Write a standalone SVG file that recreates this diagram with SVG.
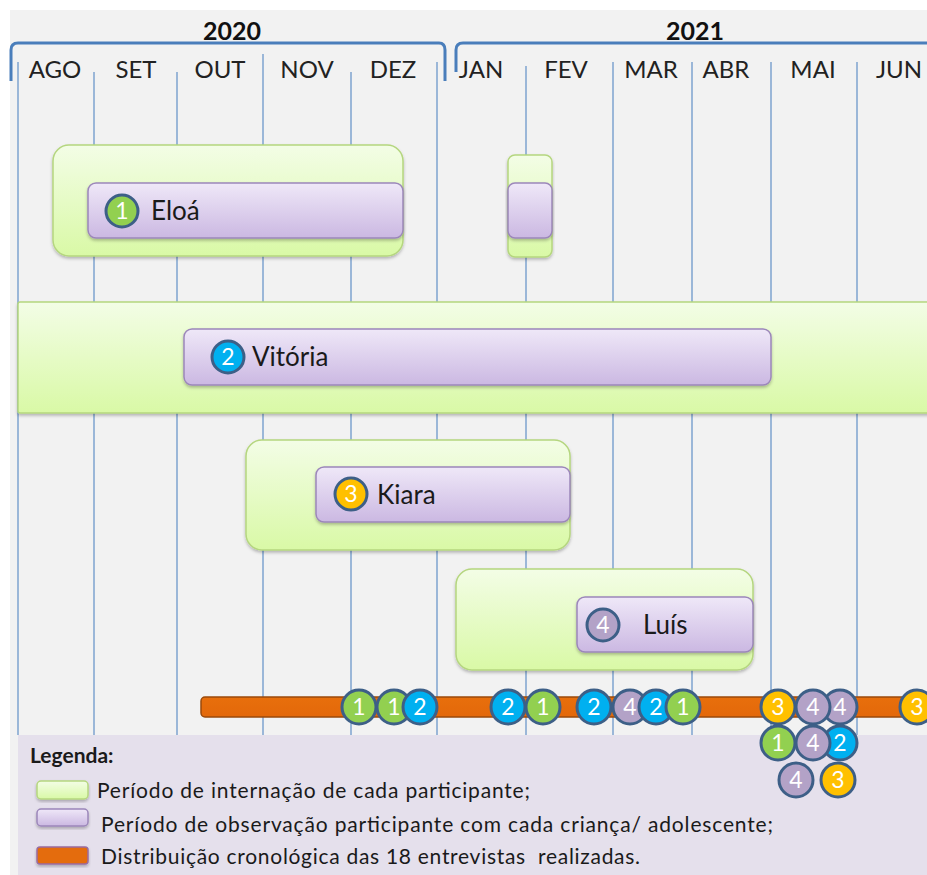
<svg xmlns="http://www.w3.org/2000/svg" width="927" height="875" viewBox="0 0 927 875">
<defs>
<linearGradient id="gG" x1="0" y1="0" x2="0" y2="1"><stop offset="0" stop-color="#f3fde6"/><stop offset="1" stop-color="#d9f9a6"/></linearGradient>
<linearGradient id="gP" x1="0" y1="0" x2="0" y2="1"><stop offset="0" stop-color="#efe8f8"/><stop offset="1" stop-color="#cbb8e2"/></linearGradient>
<linearGradient id="gO" x1="0" y1="0" x2="0" y2="1"><stop offset="0" stop-color="#e86f0c"/><stop offset="1" stop-color="#e3680a"/></linearGradient>
<filter id="sh" x="-5%" y="-10%" width="110%" height="130%"><feDropShadow dx="0" dy="2" stdDeviation="1.5" flood-color="#000" flood-opacity="0.25"/></filter>
</defs>
<style>
.grid{stroke:#7ea3cf;stroke-width:1.5}
.br{fill:none;stroke:#4a7ebb;stroke-width:3}
.yr{font-family:Lato,"Liberation Sans",sans-serif;font-weight:bold;font-size:25px;fill:#111;text-anchor:middle}
.mo{font-family:Lato,"Liberation Sans",sans-serif;font-size:24px;fill:#222;text-anchor:middle}
.gb{fill:url(#gG);stroke:#b5d67f;stroke-width:1.5;filter:url(#sh)}
.pb{fill:url(#gP);stroke:#9c87ba;stroke-width:1.5;filter:url(#sh)}
.nm{font-family:Lato,"Liberation Sans",sans-serif;font-size:26px;fill:#1a1a1a}
.c{stroke:#3d5f87;stroke-width:3}
.n{font-family:Lato,"Liberation Sans",sans-serif;font-size:23px;fill:#fff;text-anchor:middle}
.g{fill:#92d050}.b{fill:#00b0f0}.p{fill:#b3a2c7}.y{fill:#ffc000}
.lg{font-family:Lato,"Liberation Sans",sans-serif;font-size:21px;fill:#1a1a1a}
</style>
<rect x="0" y="0" width="927" height="875" fill="#ffffff"/>
<rect x="10" y="10" width="917" height="865" fill="#f2f2f2"/>
<rect x="18" y="735" width="909" height="140" fill="#e5e0ec"/>

<g id="grid">
<line class="grid" x1="18" y1="62" x2="18" y2="735"/>
<line class="grid" x1="94" y1="72" x2="94" y2="735"/>
<line class="grid" x1="177" y1="72" x2="177" y2="735"/>
<line class="grid" x1="263" y1="54" x2="263" y2="735"/>
<line class="grid" x1="351" y1="72" x2="351" y2="735"/>
<line class="grid" x1="437" y1="62" x2="437" y2="735"/>
<line class="grid" x1="526" y1="66" x2="526" y2="735"/>
<line class="grid" x1="613" y1="62" x2="613" y2="735"/>
<line class="grid" x1="692" y1="62" x2="692" y2="735"/>
<line class="grid" x1="771" y1="62" x2="771" y2="735"/>
<line class="grid" x1="857" y1="62" x2="857" y2="735"/>
</g>

<g id="header">
<path class="br" d="M11,81 L11,50 Q11,43 18,43 L439,43 Q445,43 445,50 L445,81"/>
<path class="br" d="M456,72 L456,50 Q456,43 463,43 L927,43"/>
<text class="yr" x="232" y="40">2020</text>
<text class="yr" x="695" y="40">2021</text>
<text class="mo" x="55" y="78">AGO</text>
<text class="mo" x="136" y="78">SET</text>
<text class="mo" x="220" y="78">OUT</text>
<text class="mo" x="307" y="78">NOV</text>
<text class="mo" x="393" y="78">DEZ</text>
<text class="mo" x="481" y="78">JAN</text>
<text class="mo" x="566" y="78">FEV</text>
<text class="mo" x="651" y="78">MAR</text>
<text class="mo" x="726" y="78">ABR</text>
<text class="mo" x="813" y="78">MAI</text>
<text class="mo" x="899" y="78">JUN</text>
</g>

<g id="eloa">
<rect class="gb" x="53" y="145" width="350" height="111" rx="16"/>
<rect class="pb" x="88" y="183" width="315" height="55" rx="8"/>
<circle class="c g" cx="122" cy="211" r="16"/>
<text class="n" x="122" y="219">1</text>
<text class="nm" x="151" y="220">Eloá</text>
</g>
<g id="eloa2">
<rect class="gb" x="508" y="155" width="44" height="102" rx="7"/>
<rect class="pb" x="508" y="183" width="44" height="55" rx="7"/>
</g>

<g id="vitoria">
<rect class="gb" x="18" y="302" width="930" height="111" rx="2"/>
<rect class="pb" x="184" y="329" width="587" height="56" rx="8"/>
<circle class="c b" cx="228" cy="357" r="16"/>
<text class="n" x="228" y="365">2</text>
<text class="nm" x="252" y="366">Vitória</text>
</g>

<g id="kiara">
<rect class="gb" x="246" y="440" width="324" height="110" rx="16"/>
<rect class="pb" x="316" y="467" width="254" height="55" rx="8"/>
<circle class="c y" cx="351" cy="494" r="16"/>
<text class="n" x="351" y="502">3</text>
<text class="nm" x="377" y="504">Kiara</text>
</g>

<g id="luis">
<rect class="gb" x="456" y="569" width="297" height="101" rx="16"/>
<rect class="pb" x="577" y="597" width="176" height="55" rx="8"/>
<circle class="c p" cx="603" cy="625" r="16"/>
<text class="n" x="603" y="633">4</text>
<text class="nm" x="643" y="634">Luís</text>
</g>

<g id="connectors">
<rect x="201" y="697" width="740" height="20" rx="4" fill="url(#gO)" stroke="#9a4a0b" stroke-width="1.5"/>
</g>

<g id="interviews">
<circle class="c g" cx="359" cy="707" r="17"/><text class="n" x="359" y="715">1</text>
<circle class="c g" cx="394" cy="707" r="17"/><text class="n" x="394" y="715">1</text>
<circle class="c b" cx="420" cy="707" r="17"/><text class="n" x="420" y="715">2</text>
<circle class="c b" cx="508" cy="707" r="17"/><text class="n" x="508" y="715">2</text>
<circle class="c g" cx="543" cy="707" r="17"/><text class="n" x="543" y="715">1</text>
<circle class="c b" cx="594" cy="707" r="17"/><text class="n" x="594" y="715">2</text>
<circle class="c p" cx="630" cy="707" r="17"/><text class="n" x="630" y="715">4</text>
<circle class="c b" cx="656" cy="707" r="17"/><text class="n" x="656" y="715">2</text>
<circle class="c g" cx="683" cy="707" r="17"/><text class="n" x="683" y="715">1</text>
<circle class="c p" cx="840" cy="707" r="17"/><text class="n" x="840" y="715">4</text>
<circle class="c y" cx="778" cy="707" r="17"/><text class="n" x="778" y="715">3</text>
<circle class="c p" cx="813" cy="707" r="17"/><text class="n" x="813" y="715">4</text>
<circle class="c y" cx="917" cy="707" r="17"/><text class="n" x="917" y="715">3</text>
<circle class="c b" cx="840" cy="743" r="17"/><text class="n" x="840" y="751">2</text>
<circle class="c g" cx="778" cy="743" r="17"/><text class="n" x="778" y="751">1</text>
<circle class="c p" cx="813" cy="743" r="17"/><text class="n" x="813" y="751">4</text>
<circle class="c p" cx="796" cy="780" r="17"/><text class="n" x="796" y="788">4</text>
<circle class="c y" cx="838" cy="780" r="17"/><text class="n" x="838" y="788">3</text>
</g>

<g id="legend">
<text class="lg" x="30" y="763" font-weight="bold">Legenda:</text>
<rect x="37" y="781" width="51" height="18" rx="4" fill="url(#gG)" stroke="#b5d67f" stroke-width="1.5" filter="url(#sh)"/>
<rect x="37" y="809" width="51" height="17" rx="4" fill="url(#gP)" stroke="#9c87ba" stroke-width="1.5" filter="url(#sh)"/>
<rect x="37" y="847" width="51" height="17" rx="3" fill="#e46c0a" stroke="#9a6b9e" stroke-width="1.5" filter="url(#sh)"/>
<text class="lg" x="97" y="798" textLength="433" lengthAdjust="spacing">Período de internação de cada participante;</text>
<text class="lg" x="101" y="832" textLength="672" lengthAdjust="spacing">Período de observação participante com cada criança/ adolescente;</text>
<text class="lg" x="101" y="864" textLength="539" lengthAdjust="spacing" xml:space="preserve">Distribuição cronológica das 18 entrevistas  realizadas.</text>
</g>
</svg>
